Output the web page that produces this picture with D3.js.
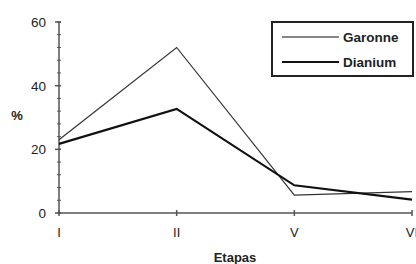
<!DOCTYPE html>
<html>
<head>
<meta charset="utf-8">
<style>
body { margin: 0; background: #fff; }
text { font-family: "Liberation Sans", Arial, sans-serif; fill: #222; }
</style>
</head>
<body>
<script src="https://d3js.org/d3.v7.min.js"></script>
<script>
var etapas = ["I", "II", "V", "VI"];
var garonne = [23, 52, 5.6, 6.7];
var dianium = [21.7, 32.7, 8.7, 4.2];
var yTicks = [0, 20, 40, 60];

var width = 416, height = 264;
var x0 = 59, x1 = 412, yTop = 22, yBot = 213;

var svg = d3.select("body").append("svg")
    .attr("width", width)
    .attr("height", height);

var x = d3.scalePoint().domain(etapas).range([x0, x1]);
var y = d3.scaleLinear().domain([0, 60]).range([yBot, yTop]);

var axisColor = "#555";

// y axis
var yAxis = svg.append("g").attr("transform", "translate(" + x0 + ",0)");
yAxis.append("line")
    .attr("y1", y(60)).attr("y2", y(0))
    .attr("stroke", axisColor).attr("stroke-width", 1.5);
yAxis.selectAll(".minor")
    .data(d3.range(0, 61, 4))
    .enter().append("line")
    .attr("x1", -2).attr("x2", 2)
    .attr("y1", function(d) { return y(d); })
    .attr("y2", function(d) { return y(d); })
    .attr("stroke", axisColor);
yAxis.selectAll(".major")
    .data(yTicks)
    .enter().append("line")
    .attr("x1", -4).attr("x2", 2)
    .attr("y1", function(d) { return y(d); })
    .attr("y2", function(d) { return y(d); })
    .attr("stroke", axisColor).attr("stroke-width", 1.5);
yAxis.selectAll("text")
    .data(yTicks)
    .enter().append("text")
    .attr("x", -13)
    .attr("y", function(d) { return y(d) + 5; })
    .attr("text-anchor", "end")
    .style("font-size", "13.5px")
    .text(function(d) { return d; });

// x axis
var xAxis = svg.append("g").attr("transform", "translate(0," + yBot + ")");
xAxis.append("line")
    .attr("x1", x0).attr("x2", x1)
    .attr("stroke", axisColor).attr("stroke-width", 1.5);
xAxis.selectAll(".tick")
    .data(etapas)
    .enter().append("line")
    .attr("x1", function(d) { return x(d); })
    .attr("x2", function(d) { return x(d); })
    .attr("y1", -3).attr("y2", 3)
    .attr("stroke", axisColor).attr("stroke-width", 1.5);
xAxis.selectAll("text")
    .data(etapas)
    .enter().append("text")
    .attr("x", function(d) { return x(d); })
    .attr("y", 24)
    .attr("text-anchor", "middle")
    .style("font-size", "13px")
    .text(function(d) { return d; });

// axis titles
svg.append("text")
    .attr("x", 17).attr("y", 120)
    .attr("text-anchor", "middle")
    .style("font-size", "13px").style("font-weight", "bold")
    .text("%");
svg.append("text")
    .attr("x", 235).attr("y", 262)
    .attr("text-anchor", "middle")
    .style("font-size", "13px").style("font-weight", "bold")
    .text("Etapas");

// lines
var line = d3.line()
    .x(function(d, i) { return x(etapas[i]); })
    .y(function(d) { return y(d); });

svg.append("path")
    .datum(garonne)
    .attr("d", line)
    .attr("fill", "none")
    .attr("stroke", "#333")
    .attr("stroke-width", 1.2);
svg.append("path")
    .datum(dianium)
    .attr("d", line)
    .attr("fill", "none")
    .attr("stroke", "#111")
    .attr("stroke-width", 2.2);

// legend
var legend = svg.append("g");
legend.append("rect")
    .attr("x", 272).attr("y", 22)
    .attr("width", 141).attr("height", 54)
    .attr("fill", "#fff")
    .attr("stroke", "#222").attr("stroke-width", 2);
var series = [{name: "Garonne", w: 1.2}, {name: "Dianium", w: 2.2}];
series.forEach(function(s, i) {
    var ly = 37 + i * 25;
    legend.append("line")
        .attr("x1", 282).attr("x2", 339)
        .attr("y1", ly).attr("y2", ly)
        .attr("stroke", "#111").attr("stroke-width", s.w);
    legend.append("text")
        .attr("x", 343).attr("y", ly + 5)
        .style("font-size", "13.5px").style("font-weight", "bold")
        .text(s.name);
});
</script>
</body>
</html>
